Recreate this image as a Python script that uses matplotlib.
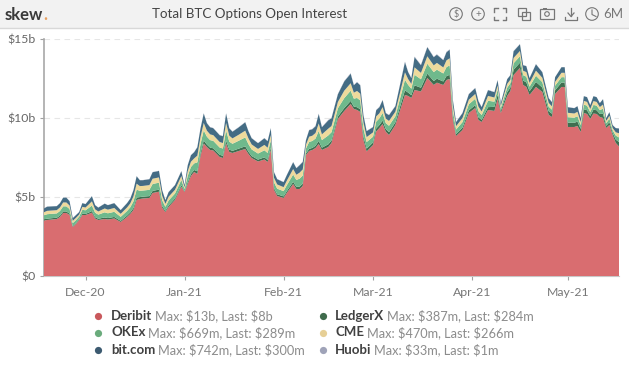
import numpy as np
import matplotlib
matplotlib.use('Agg')
import matplotlib.pyplot as plt
import matplotlib.dates as mdates
from matplotlib.patches import Circle, Rectangle

plt.rcParams['font.family'] = ['Lato', 'DejaVu Sans']

# days since 18 Nov 2020
days = [0,1,4,5,6,7,8,9,10,11,12,13,14,15,16,17,19,20,22,24,26,27,28,29,30,31,33,34,36,37,38,39,41,43,44,45,46,47,48,49,
        50,51,52,53,55,56,57,58,59,61,63,64,65,67,69,70,71,72,73,75,76,78,79,80,81,82,83,84,85,86,87,89,90,92,94,96,97,98,99,
        100,101,103,104,105,106,107,108,110,113,114,115,116,118,120,122,123,125,126,127,128,129,131,133,135,136,137,139,
        141,142,143,145,146,147,149,150,151,152,154,156,158,159,160,162,163,164,166,167,168,169,170,171,172,173,174,175,176,177,178,179,180]

# $m
deribit = [3513,3545,3608,3735,3988,3988,3861,3102,3292,3545,3861,3861,3925,4007,3640,3545,3608,3576,3640,3418,3735,3925,4178,4811,4874,4906,4937,5254,5336,4304,4051,4368,4811,5653,5317,5824,6330,6583,6457,7596,
           8387,8166,7976,7944,7533,7469,8387,7849,7786,7913,8039,7723,7469,7248,7374,7216,7976,5444,5064,4937,5254,5824,5507,5507,5697,7659,7913,7976,8102,8356,7976,8166,8419,9938,10445,10888,10571,10508,10381,
           8609,7881,8292,9147,9368,9622,9134,8925,9558,11457,11394,11267,11774,11679,12533,12090,12236,12090,12407,12470,9875,8862,9242,10318,10634,9875,9748,10508,
           10445,11204,10318,11394,11710,12723,13166,12090,11964,11457,11964,11647,10191,10065,11521,11964,11964,9432,9432,9495,9115,10318,10255,9938,10286,10255,10065,10001,9368,9558,8925,8419,8198]
ledgerx = [77,85,82,88,98,98,88,57,57,50,76,69,88,105,85,79,98,91,98,76,88,98,126,151,120,117,120,132,132,113,76,95,95,99,44,120,132,126,170,176,
           192,151,145,142,139,139,192,151,135,151,170,145,126,117,135,132,139,113,107,101,113,139,132,151,153,95,132,132,139,192,145,170,158,158,189,195,151,176,170,
           222,182,160,191,187,214,166,178,169,294,214,178,294,236,276,249,251,222,249,263,178,125,151,169,178,169,133,178,
           264,264,139,236,222,334,334,278,292,236,320,278,236,209,236,278,278,278,264,278,195,236,236,195,243,236,195,264,139,181,139,209,284]
okex = [255,282,272,293,324,324,293,188,188,167,251,230,293,349,282,261,324,303,324,251,293,324,418,502,397,387,397,439,439,376,251,314,314,328,146,397,439,418,564,585,
        637,502,481,470,460,460,637,502,449,502,564,481,418,387,449,439,460,376,355,334,376,460,439,502,508,314,439,439,460,637,481,564,523,523,627,648,502,585,564,
        508,416,365,436,426,487,380,406,386,669,487,406,669,538,629,568,572,508,568,599,406,284,345,386,406,386,305,406,
        325,325,171,291,274,410,410,342,359,291,393,342,291,257,291,342,342,342,325,342,239,291,291,239,299,291,239,325,171,222,171,257,289]
cme = [193,213,205,221,245,245,221,142,142,126,190,174,221,264,213,198,245,229,245,190,221,245,316,379,300,292,300,332,332,284,190,237,237,248,111,300,332,316,427,442,
       470,379,363,356,348,348,470,379,340,379,427,363,316,292,340,332,348,284,269,253,284,348,332,379,384,237,332,332,348,470,363,427,395,395,470,470,379,442,427,
       380,312,274,327,319,365,284,304,289,470,365,304,470,403,470,426,429,380,426,448,304,213,258,289,304,289,228,304,
       264,264,139,236,222,334,334,278,292,236,320,278,236,209,236,278,278,278,264,278,195,236,236,195,243,236,195,264,139,181,139,209,266]
bitcom = [239,265,255,274,304,304,274,176,176,157,235,216,274,327,265,245,304,284,304,235,274,304,392,470,372,363,372,412,412,353,235,294,294,308,137,372,412,392,529,549,
          598,470,451,441,431,431,598,470,421,470,529,451,392,363,421,412,431,353,333,314,353,431,412,470,476,294,412,412,431,598,451,529,490,490,588,608,470,549,529,
          460,377,331,396,386,442,344,368,350,650,442,368,650,488,570,515,519,460,515,543,368,258,313,350,368,350,276,368,
          336,336,177,301,283,425,425,354,372,301,407,354,301,266,301,354,354,354,336,354,248,301,301,248,310,301,248,336,177,230,177,266,300]
huobi = [8,8,8,9,9,10,9,8,8,7,8,8,9,10,9,9,10,10,10,9,10,10,12,14,12,12,12,13,13,12,9,11,11,11,8,13,14,14,18,19,
         22,18,17,17,16,16,22,18,17,18,20,18,16,15,17,17,18,15,14,14,15,18,17,20,20,15,20,20,21,28,22,26,24,24,28,30,24,28,27,
         25,20,18,21,20,23,18,20,19,33,24,20,33,27,31,28,29,25,28,30,20,14,16,18,19,18,14,18,
         16,16,8,13,12,18,18,14,14,10,14,12,9,8,9,10,10,9,9,9,6,7,7,6,7,6,5,6,3,4,3,3,1]

labels = ['Deribit', 'LedgerX', 'OKEx', 'CME', 'bit.com', 'Huobi']
colors = ['#d96d70', '#3f6e50', '#6fb98c', '#eeda9c', '#446c84', '#a3a6ba']
dot_colors = ['#c9585c', '#3f6b4c', '#6aab7c', '#e6cf96', '#3c5a70', '#9fa3b8']
legend_stats = [r'Max: \$13b, Last: \$8b', r'Max: \$387m, Last: \$284m', r'Max: \$669m, Last: \$289m',
                r'Max: \$470m, Last: \$266m', r'Max: \$742m, Last: \$300m', r'Max: \$33m, Last: \$1m']
ytick_vals = [0, 5000, 10000, 15000]
ytick_labels = [r'\$0', r'\$5b', r'\$10b', r'\$15b']

W, H = 629, 367
dates = np.datetime64('2020-11-18') + np.array(days, dtype='timedelta64[D]')

fig = plt.figure(figsize=(W / 100, H / 100), dpi=100)

# overlay in pixel coordinates for header and legend
bg = fig.add_axes([0, 0, 1, 1])
bg.set_xlim(0, W)
bg.set_ylim(H, 0)
bg.axis('off')
bg.add_patch(Rectangle((0, 0), W, 27.5, fc='#f2f2f2', ec='none'))
bg.plot([0, W], [28, 28], color='#d8d8d8', lw=1)

ax = fig.add_axes([44 / W, 1 - 276 / H, 575 / W, 237 / H])
ax.patch.set_alpha(0)
ax.stackplot(dates, deribit, ledgerx, okex, cme, bitcom, huobi, colors=colors, lw=0, zorder=3)
ax.set_xlim(np.datetime64('2020-11-18'), np.datetime64('2021-05-17'))
ax.set_ylim(0, 15000)
ax.set_yticks(ytick_vals)
ax.set_yticklabels(ytick_labels)
ax.xaxis.set_major_locator(mdates.MonthLocator())
ax.xaxis.set_major_formatter(mdates.DateFormatter('%b-%y'))
ax.grid(axis='y', color='#e6e6e6', lw=0.8, ls=(0, (5, 4)), zorder=0)
for s in ['top', 'right']:
    ax.spines[s].set_visible(False)
ax.spines['left'].set_color('#a8a8a8')
ax.spines['left'].set_linewidth(1.2)
ax.spines['bottom'].set_color('#c8c8c8')
ax.tick_params(axis='y', colors='#a0a0a0', length=3, width=0.8, pad=3, labelsize=8.8, labelcolor='#666666')
ax.tick_params(axis='x', colors='#a0a0a0', length=3, width=0.8, pad=5, labelsize=8.8, labelcolor='#777777')

# header
t = bg.text(5, 14.5, 'skew', fontsize=12, fontweight='bold', color='#3a3a3a', va='center')
bg.text(43, 14.5, '.', fontsize=12, fontweight='bold', color='#e8a060', va='center')
bg.text(250, 13.5, 'Total BTC Options Open Interest', fontsize=9.6, color='#444444', ha='center', va='center')

grey = '#777777'
bg.add_patch(Circle((456, 14), 6.3, fc='none', ec=grey, lw=0.8))
bg.text(456, 14, r'\$', fontsize=6.5, color=grey, ha='center', va='center')
bg.add_patch(Circle((478, 14), 6.3, fc='none', ec=grey, lw=0.8))
bg.text(478, 14, '+', fontsize=7, color=grey, ha='center', va='center')
# fullscreen corners
for cx, cy, dx, dy in [(494, 8, 1, 1), (506, 8, -1, 1), (494, 20, 1, -1), (506, 20, -1, -1)]:
    bg.plot([cx + 3.5 * dx, cx, cx], [cy, cy, cy + 3.5 * dy], color=grey, lw=1)
bg.add_patch(Rectangle((518, 8), 8, 8, fc='none', ec=grey, lw=0.9))
bg.add_patch(Rectangle((522, 12), 8, 8, fc='none', ec=grey, lw=0.9))
bg.add_patch(Rectangle((540, 9), 14, 10, fc='none', ec=grey, lw=0.9))
bg.add_patch(Rectangle((543, 7.5), 4, 1.5, fc=grey, ec='none'))
bg.add_patch(Circle((547, 14), 2.3, fc='none', ec=grey, lw=0.8))
bg.plot([571, 571], [8, 16], color=grey, lw=0.9)
bg.plot([568, 571, 574], [13, 16.5, 13], color=grey, lw=0.9)
bg.plot([565, 565, 577, 577], [17, 19.5, 19.5, 17], color=grey, lw=0.9)
bg.add_patch(Circle((592, 14), 6.3, fc='none', ec=grey, lw=0.8))
bg.plot([592, 592, 596], [10, 14.5, 16.5], color=grey, lw=0.8)
bg.text(603, 14, '6M', fontsize=9.5, color=grey, va='center')

# legend
rows = [316, 332.5, 349.5]
cols = [(98, 111), (323, 335)]
order = [(0, 0), (1, 0), (0, 1), (1, 1), (0, 2), (1, 2)]
fig.canvas.draw()
rend = fig.canvas.get_renderer()
for i, (c, r) in enumerate(order):
    dot_x, text_x = cols[c]
    y = rows[r]
    bg.plot([dot_x], [y], 'o', ms=5.2, color=dot_colors[i], mec='none')
    name = bg.text(text_x, y, labels[i], fontsize=9.5, color='#404040', va='center', fontweight='bold')
    bb = name.get_window_extent(rend)
    bg.text(text_x + bb.width + 3, y, legend_stats[i], fontsize=9.2, color='#8c8c8c', va='center')

fig.savefig('out.png', dpi=100)
